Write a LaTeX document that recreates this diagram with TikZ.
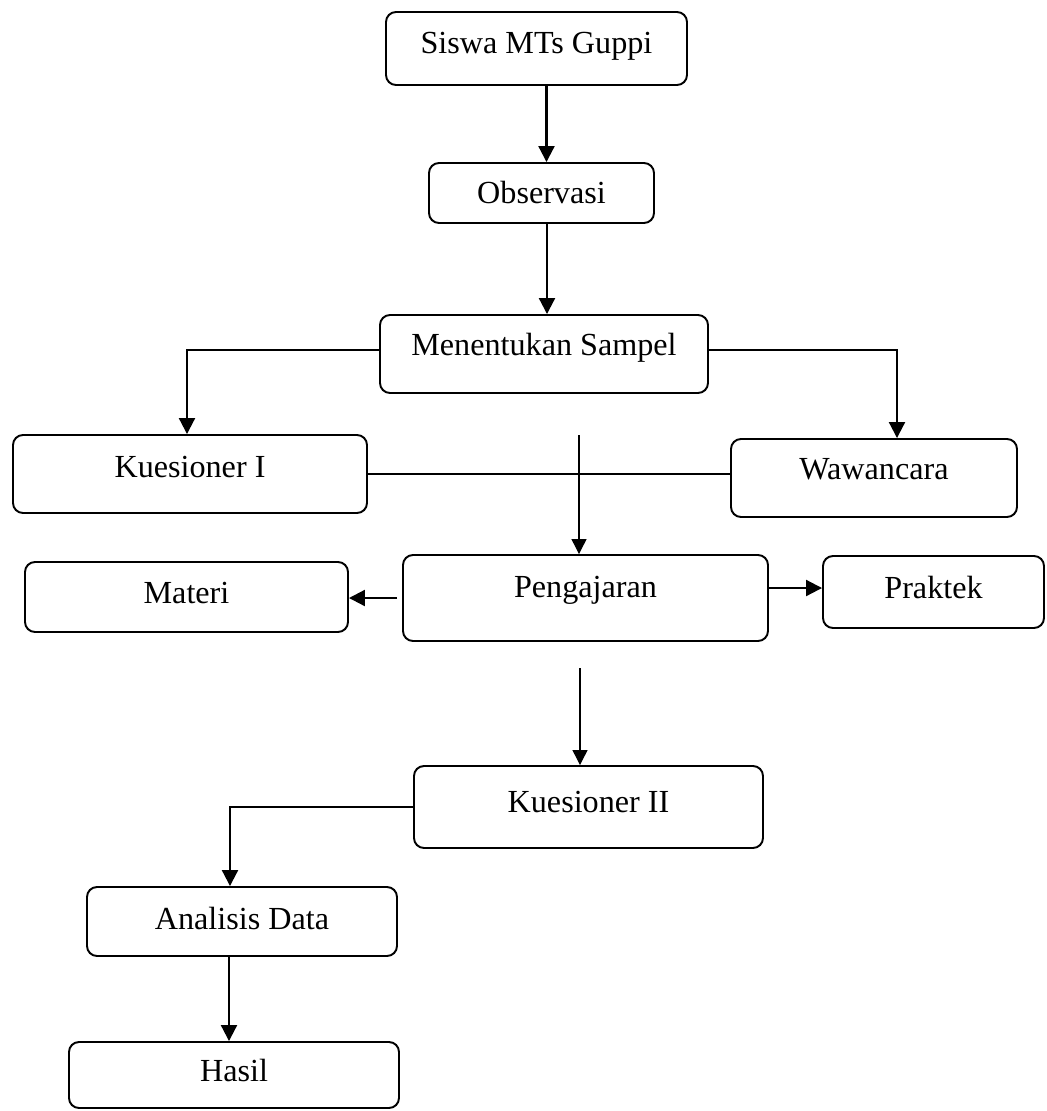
\documentclass[tikz,border=0pt]{standalone}
\usepackage{fontspec}
\setmainfont{Liberation Serif}
\usepackage{tikz}
\usetikzlibrary{arrows.meta}

\tikzset{
  BoxStyle/.style={draw, line width=1.1pt, rounded corners=0.2cm, inner sep=0pt,
    font=\fontsize{18.3}{22}\selectfont, text height=0.43cm, text depth=0pt},
  TextUp/.style={text depth=#1},
  EdgeStyle/.style={line width=1.2pt, -{Triangle[length=0.32cm,width=0.32cm]}},
  ThinEdge/.style={line width=0.7pt, -{Triangle[length=0.3cm,width=0.3cm]}},
  LinkStyle/.style={line width=0.8pt}
}

\begin{document}
\begin{tikzpicture}
            \useasboundingbox (0,0) rectangle (20.92,-22.22);

            \node[BoxStyle,TextUp=0.24cm,minimum width=6.02cm,minimum height=1.46cm] (siswa) at (10.73,-0.97) {Siswa MTs Guppi};
            \node[BoxStyle,minimum width=4.5cm,minimum height=1.2cm] (observasi) at (10.83,-3.86) {Observasi};
            \node[BoxStyle,TextUp=0.36cm,minimum width=6.56cm,minimum height=1.56cm] (sampel) at (10.88,-7.08) {Menentukan Sampel};

            \node[BoxStyle,TextUp=0.28cm,minimum width=7.08cm,minimum height=1.56cm] (kuesA) at (3.8,-9.48) {Kuesioner I};
            \node[BoxStyle,TextUp=0.36cm,minimum width=5.72cm,minimum height=1.56cm] (wawancara) at (17.48,-9.56) {Wawancara};

            \node[BoxStyle,TextUp=0.44cm,minimum width=7.3cm,minimum height=1.72cm] (pengajaran) at (11.71,-11.96) {Pengajaran};
            \node[BoxStyle,TextUp=0.16cm,minimum width=6.46cm,minimum height=1.4cm] (materi) at (3.73,-11.94) {Materi};
            \node[BoxStyle,TextUp=0.16cm,minimum width=4.42cm,minimum height=1.44cm] (praktek) at (18.67,-11.84) {Praktek};

            \node[BoxStyle,TextUp=0.2cm,minimum width=6.98cm,minimum height=1.64cm] (kuesB) at (11.77,-16.14) {Kuesioner II};
            \node[BoxStyle,TextUp=0.12cm,minimum width=6.2cm,minimum height=1.38cm] (analisis) at (4.84,-18.43) {Analisis Data};
            \node[BoxStyle,TextUp=0.16cm,minimum width=6.6cm,minimum height=1.32cm] (hasil) at (4.68,-21.5) {Hasil};

            \coordinate (gapA) at (11.58,-8.7);
            \coordinate (gapB) at (11.6,-13.36);

            \draw[EdgeStyle] ([xshift=0.2cm]siswa.south) -- ([xshift=0.2cm]siswa.south |- observasi.north);
            \draw[EdgeStyle] ([xshift=0.11cm]observasi.south) -- ([xshift=0.11cm]observasi.south |- sampel.north);
            \draw[EdgeStyle] ([yshift=0.08cm]sampel.west) -| ([xshift=-0.06cm]kuesA.north);
            \draw[EdgeStyle] ([yshift=0.08cm]sampel.east) -| ([xshift=0.46cm]wawancara.north);
            \draw[LinkStyle] (kuesA.east) -- (kuesA.east -| wawancara.west);
            \draw[ThinEdge] (gapA) -- (gapA |- pengajaran.north);
            \draw[EdgeStyle] ([xshift=-0.1cm]pengajaran.west) -- (pengajaran.west -| materi.east);
            \draw[EdgeStyle] ([yshift=0.2cm]pengajaran.east) -- ([yshift=0.2cm]pengajaran.east -| praktek.west);
            \draw[ThinEdge] (gapB) -- (gapB |- kuesB.north);
            \draw[EdgeStyle] (kuesB.west) -| ([xshift=-0.24cm]analisis.north);
            \draw[EdgeStyle] ([xshift=-0.26cm]analisis.south) -- ([xshift=-0.26cm]analisis.south |- hasil.north);
\end{tikzpicture}
\end{document}
